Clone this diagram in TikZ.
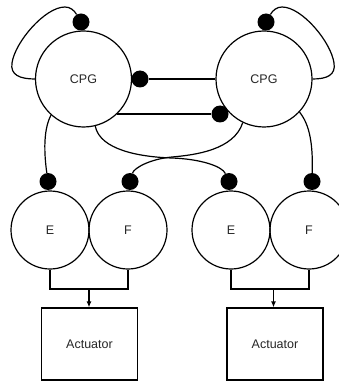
\documentclass[tikz,border=0pt]{standalone}
\usepackage{fontspec}
\setmainfont{Liberation Sans}
\usetikzlibrary{arrows.meta}
\begin{document}
\begin{tikzpicture}[x=1pt,y=-1pt,
  wire/.style={line width=1.2pt, black},
  neuron/.style={circle, draw, line width=1.2pt, inner sep=0pt,
    text=black!85, font=\fontsize{12.5}{12.5}\selectfont},
  cpg/.style={neuron, minimum size=96pt},
  motor/.style={neuron, minimum size=78pt},
  syn/.style={circle, fill=black, inner sep=0pt, minimum size=17pt},
  actbox/.style={draw, line width=1.2pt, minimum width=96pt, minimum height=72pt,
    inner sep=0pt, text=black!85, font=\fontsize{12.5}{12.5}\selectfont},
  feed/.style={wire, -{Latex[length=6pt,width=5pt]}}
]
\useasboundingbox (0,0) rectangle (339,382);
\clip (0,0) rectangle (339,382);

% central pattern generators
\node[cpg] (cpgL) at (83.5,79) {CPG};
\node[cpg] (cpgR) at (264,79) {CPG};

% extensor / flexor motor neurons
\node[motor] (eL) at (50,230) {E};
\node[motor] (fL) at (128,230) {F};
\node[motor] (eR) at (231,230) {E};
\node[motor] (fR) at (309,230) {F};

% actuators
\node[actbox] (actL) at (89.5,344) {Actuator};
\node[actbox] (actR) at (275,344) {Actuator};

% inhibitory synapses
\node[syn] (sLself) at (81,22) {};
\node[syn] (sRself) at (266,22) {};
\node[syn] (sLin) at (140,79) {};
\node[syn] (sRin) at (220,114) {};
\node[syn] (sEL) at (48,181.5) {};
\node[syn] (sFL) at (130,181.5) {};
\node[syn] (sER) at (229,181.5) {};
\node[syn] (sFR) at (312,181.5) {};

% self-inhibition loops
\draw[wire] (cpgL.west) .. controls (20,79) and (10,75) .. (12,63)
  .. controls (15,42) and (45,7) .. (65,7)
  .. controls (70,7) and (74,10) .. (sLself);
\draw[wire] (sRself) .. controls (273,10) and (277,7) .. (282,7)
  .. controls (302,7) and (331,42) .. (334,63)
  .. controls (336,75) and (327,79) .. (cpgR.east);

% mutual inhibition between the generators
\draw[wire] (cpgR.west) -- (sLin);
\draw[wire] (cpgL.-47 |- sRin) -- (sRin);

% generators to motor neurons
\draw[wire] (cpgL.228) .. controls (42,132) and (45,160) .. (sEL);
\draw[wire] (cpgR.-43) .. controls (310,125) and (313,145) .. (sFR);
\draw[wire] (cpgL.-76) .. controls (100,150) and (140,157) .. (172,158)
  .. controls (200,159) and (222,166) .. (sER);
\draw[wire] (cpgR.244) .. controls (234,150) and (195,155) .. (172,157)
  .. controls (150,159) and (134,168) .. (sFL);

% motor neurons to actuators
\coordinate (jL) at (89,289);
\coordinate (jR) at (273.5,289);
\draw[wire] (eL.south) |- (fL.south |- jL) -- (fL.south);
\draw[wire] (eR.south) |- (fR.south |- jR) -- (fR.south);
\draw[feed] (jL) -- (jL |- actL.north);
\draw[feed] (jR) -- (jR |- actR.north);
\end{tikzpicture}
\end{document}
